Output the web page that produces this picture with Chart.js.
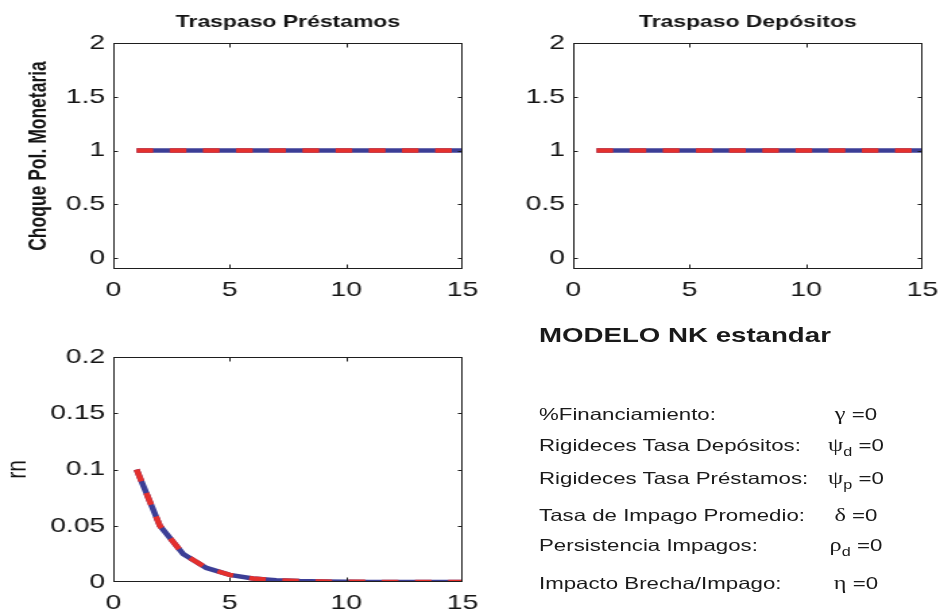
<!DOCTYPE html>
<html>
<head>
<meta charset="utf-8">
<script src="https://cdn.jsdelivr.net/npm/chart.js@4/dist/chart.umd.min.js"></script>
<style>
  html, body { margin: 0; padding: 0; background: #fff; overflow: hidden; }
  /* the figure is laid out 700px wide and widened to the 944px window */
  #fig {
    position: absolute; left: 0; top: 0; width: 700px; height: 615px;
    transform: scaleX(1.3486); transform-origin: 0 0;
    font-family: "Liberation Sans", Arial, sans-serif; color: #1a1a1a;
  }
  #fig canvas { position: absolute; }
  .txt { position: absolute; white-space: nowrap; line-height: 20px; }
  .titulo { font-weight: bold; font-size: 20.5px; line-height: 24px; }
  .param { font-size: 16.5px; }
  .valor { font-size: 16.5px; width: 100px; text-align: center; }
  .sym { font-family: "Liberation Serif", "DejaVu Serif", serif; font-size: 18px; }
  .sub { font-size: 12px; position: relative; top: 5px; }
</style>
</head>
<body>
<div id="fig">
  <canvas id="prestamos"></canvas>
  <canvas id="depositos"></canvas>
  <canvas id="tasa"></canvas>
</div>
<script>
// impulso-respuesta, horizonte de 15 periodos
const periodos = [1, 2, 3, 4, 5, 6, 7, 8, 9, 10, 11, 12, 13, 14, 15];

const prestamosAzul = [1, 1, 1, 1, 1, 1, 1, 1, 1, 1, 1, 1, 1, 1, 1];
const prestamosRojo = [1, 1, 1, 1, 1, 1, 1, 1, 1, 1, 1, 1, 1, 1, 1];
const depositosAzul = [1, 1, 1, 1, 1, 1, 1, 1, 1, 1, 1, 1, 1, 1, 1];
const depositosRojo = [1, 1, 1, 1, 1, 1, 1, 1, 1, 1, 1, 1, 1, 1, 1];
const rnAzul = [0.1, 0.05, 0.025, 0.0125, 0.0063, 0.0031, 0.0016, 0.0008, 0.0004, 0.0002, 0.0001, 0.00005, 0.00002, 0.00001, 0.000006];
const rnRojo = [0.1, 0.05, 0.025, 0.0125, 0.0063, 0.0031, 0.0016, 0.0008, 0.0004, 0.0002, 0.0001, 0.00005, 0.00002, 0.00001, 0.000006];

const ticksX = [0, 5, 10, 15];
const ticksChoque = [0, 0.5, 1, 1.5, 2];
const ticksRn = [0, 0.05, 0.1, 0.15, 0.2];

const parametros = [
  "%Financiamiento:",
  "Rigideces Tasa Depósitos:",
  "Rigideces Tasa Préstamos:",
  "Tasa de Impago Promedio:",
  "Persistencia Impagos:",
  "Impacto Brecha/Impago:",
];
const simbolos = ["γ", "ψ", "ψ", "δ", "ρ", "η"];
const subindices = ["", "d", "p", "", "d", ""];
const valores = [0, 0, 0, 0, 0, 0];

const AZUL = "#3c3e96";
const ROJO = "#e4302d";
const TINTA = "#141414";
const FUENTE = '"Liberation Sans", Arial, sans-serif';

// space around each plot area for ticks, labels and title
const M = { left: 80, right: 30, top: 40, bottom: 40 };

const toPoints = (ys) => ys.map((y, i) => ({ x: periodos[i], y }));

// axes box with inward ticks on all four sides, plus title and y label
const ejes = {
  id: "ejes",
  afterDatasetsDraw(chart, _args, opts) {
    const { ctx, chartArea: a } = chart;
    const sx = chart.scales.x;
    const sy = chart.scales.y;
    const L = Math.round(a.left) + 0.5;
    const R = Math.round(a.right) - 0.5;
    const T = Math.round(a.top) + 0.5;
    const B = Math.round(a.bottom) - 0.5;
    const clamp = (v, lo, hi) => Math.min(Math.max(v, lo), hi);

    ctx.save();
    ctx.strokeStyle = "#1e1e1e";
    ctx.lineWidth = 1;
    ctx.strokeRect(L, T, R - L, B - T);
    ctx.beginPath();
    sx.ticks.forEach((t) => {
      const px = clamp(Math.round(sx.getPixelForValue(t.value)) + 0.5, L, R);
      ctx.moveTo(px, B); ctx.lineTo(px, B - 4);
      ctx.moveTo(px, T); ctx.lineTo(px, T + 4);
    });
    sy.ticks.forEach((t) => {
      const py = clamp(Math.round(sy.getPixelForValue(t.value)) + 0.5, T, B);
      ctx.moveTo(L, py); ctx.lineTo(L + 3, py);
      ctx.moveTo(R, py); ctx.lineTo(R - 3, py);
    });
    ctx.stroke();

    ctx.fillStyle = TINTA;
    ctx.textAlign = "center";
    ctx.textBaseline = "middle";
    if (opts.titulo) {
      ctx.font = "bold 17px " + FUENTE;
      ctx.fillText(opts.titulo, (a.left + a.right) / 2, a.top - 20.5);
    }
    if (opts.etiquetaY) {
      ctx.translate(a.left + opts.etiquetaX, (a.top + a.bottom) / 2);
      ctx.rotate(-Math.PI / 2);
      ctx.font = opts.fuenteY;
      ctx.fillText(opts.etiquetaY, 0, 0);
    }
    ctx.restore();
  },
};

function makePanel(id, box, series, yMin, yMax, yTicks, labels) {
  const cv = document.getElementById(id);
  const w = box.w + M.left + M.right;
  const h = box.h + M.top + M.bottom;
  cv.width = w;
  cv.height = h;
  cv.style.width = w + "px";
  cv.style.height = h + "px";
  cv.style.left = box.x - M.left + "px";
  cv.style.top = box.y - M.top + "px";

  const tickFont = { family: FUENTE, size: 21 };
  return new Chart(cv, {
    type: "line",
    data: {
      datasets: [
        {
          data: toPoints(series[1]),
          borderColor: ROJO,
          borderWidth: 4.5,
          borderDash: [12.3, 12.3],
          pointRadius: 0,
          tension: 0,
          order: 0,
        },
        {
          data: toPoints(series[0]),
          borderColor: AZUL,
          borderWidth: 4.5,
          pointRadius: 0,
          tension: 0,
          order: 1,
        },
      ],
    },
    options: {
      responsive: false,
      animation: false,
      devicePixelRatio: 1,
      layout: { padding: { left: 0, right: M.right, top: M.top, bottom: 0 } },
      plugins: {
        legend: { display: false },
        tooltip: { enabled: false },
        ejes: labels,
      },
      scales: {
        x: {
          type: "linear",
          min: 0,
          max: 15,
          grid: { display: false, drawTicks: false },
          border: { display: false },
          afterBuildTicks: (s) => { s.ticks = ticksX.map((v) => ({ value: v })); },
          afterFit: (s) => { s.height = M.bottom; },
          ticks: {
            font: tickFont,
            color: TINTA,
            padding: 9,
            maxRotation: 0,
            callback: (v) => String(v),
          },
        },
        y: {
          min: yMin,
          max: yMax,
          grid: { display: false, drawTicks: false },
          border: { display: false },
          afterBuildTicks: (s) => { s.ticks = yTicks.map((v) => ({ value: v })); },
          afterFit: (s) => { s.width = M.left; },
          ticks: {
            font: tickFont,
            color: TINTA,
            padding: 6,
            callback: (v) => String(v),
          },
        },
      },
    },
    plugins: [ejes],
  });
}

makePanel("prestamos", { x: 84, y: 43, w: 259, h: 226 },
  [prestamosAzul, prestamosRojo], -0.1, 2, ticksChoque,
  {
    titulo: "Traspaso Préstamos",
    etiquetaY: "Choque Pol. Monetaria",
    etiquetaX: -55.3,
    fuenteY: "bold 17.5px " + FUENTE,
  });

makePanel("depositos", { x: 425, y: 43, w: 259, h: 226 },
  [depositosAzul, depositosRojo], -0.1, 2, ticksChoque,
  { titulo: "Traspaso Depósitos" });

makePanel("tasa", { x: 84, y: 357, w: 259, h: 225 },
  [rnAzul, rnRojo], 0, 0.2, ticksRn,
  {
    etiquetaY: "rn",
    etiquetaX: -70.5,
    fuenteY: "21px " + FUENTE,
  });

// parameter summary beside the rn panel
const fig = document.getElementById("fig");
const addText = (cls, left, top, html) => {
  const d = document.createElement("div");
  d.className = "txt " + cls;
  d.style.left = left + "px";
  d.style.top = top + "px";
  d.innerHTML = html;
  fig.appendChild(d);
  return d;
};

addText("titulo", 399.7, 334.7 - 12, "MODELO NK estandar");

const filasY = [413.7, 444.5, 477.8, 514.5, 545.3, 582.7];
parametros.forEach((p, i) => {
  addText("param", 399.7, filasY[i] - 10, p);
  const sub = subindices[i] ? '<span class="sub">' + subindices[i] + "</span>" : "";
  addText("valor", 634.7 - 50, filasY[i] - 10,
    '<span class="sym">' + simbolos[i] + "</span>" + sub + " =" + valores[i]);
});
</script>
</body>
</html>
